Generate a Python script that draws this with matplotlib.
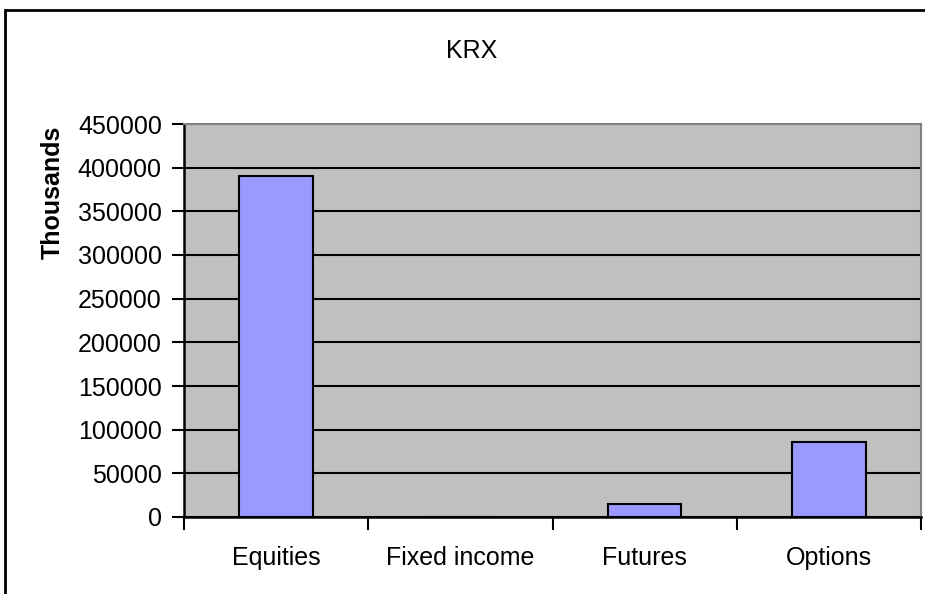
import matplotlib
matplotlib.use("Agg")
import numpy as np
from matplotlib import pyplot as plt
from matplotlib.patches import Rectangle

plt.rcParams['font.family'] = ['Liberation Sans', 'DejaVu Sans']

# data
categories = ["Equities", "Fixed income", "Futures", "Options"]
values = [391000, 0, 15000, 86000]
yticks = [0, 50000, 100000, 150000, 200000, 250000, 300000, 350000, 400000, 450000]

fig = plt.figure(figsize=(9.25, 5.94), dpi=100)
ax = fig.add_axes([184 / 925, 77 / 594, 737 / 925, 393 / 594])
ax.set_facecolor("#c0c0c0")

x = np.arange(len(categories))
ax.bar(x, values, width=0.4, color="#9999ff", edgecolor="black", linewidth=1.5, zorder=3)

ax.set_xlim(-0.5, len(categories) - 0.5)
ax.set_ylim(0, 450000)
ax.set_yticks(yticks)
ax.set_yticklabels([str(v) for v in yticks])
ax.yaxis.grid(True, color="black", linewidth=1.5, zorder=1)
ax.set_axisbelow(True)

# x ticks between categories, labels centered
ax.set_xticks(np.arange(-0.5, len(categories), 1.0))
ax.set_xticklabels([])
ax.set_xticks(x, minor=True)
ax.set_xticklabels(categories, minor=True)
ax.tick_params(axis="x", which="minor", length=0, pad=21, labelsize=18)
ax.tick_params(axis="x", which="major", length=9, width=1.5, direction="out")
ax.tick_params(axis="y", length=9, width=1.5, direction="out", labelsize=18, pad=7)

for side in ["left", "bottom"]:
    ax.spines[side].set_linewidth(1.8)
    ax.spines[side].set_color("black")
ax.spines["top"].set_color("#808080")
ax.spines["top"].set_linewidth(1.5)
ax.spines["right"].set_color("#808080")
ax.spines["right"].set_linewidth(1.5)
ax.spines["bottom"].set_zorder(4)

fig.text(472 / 925, 1 - 51 / 594, "KRX", ha="center", va="center", fontsize=18)
fig.text(53 / 925, 1 - 192 / 594, "Thousands", ha="center", va="center",
         rotation=90, fontsize=18, fontweight="bold")

# chart border
fig.patches.append(Rectangle((5 / 925, -0.05), 1.1, 1 - 10 / 594 + 0.05,
                             transform=fig.transFigure, fill=False,
                             edgecolor="black", linewidth=2))

fig.savefig("out.png", dpi=100)
